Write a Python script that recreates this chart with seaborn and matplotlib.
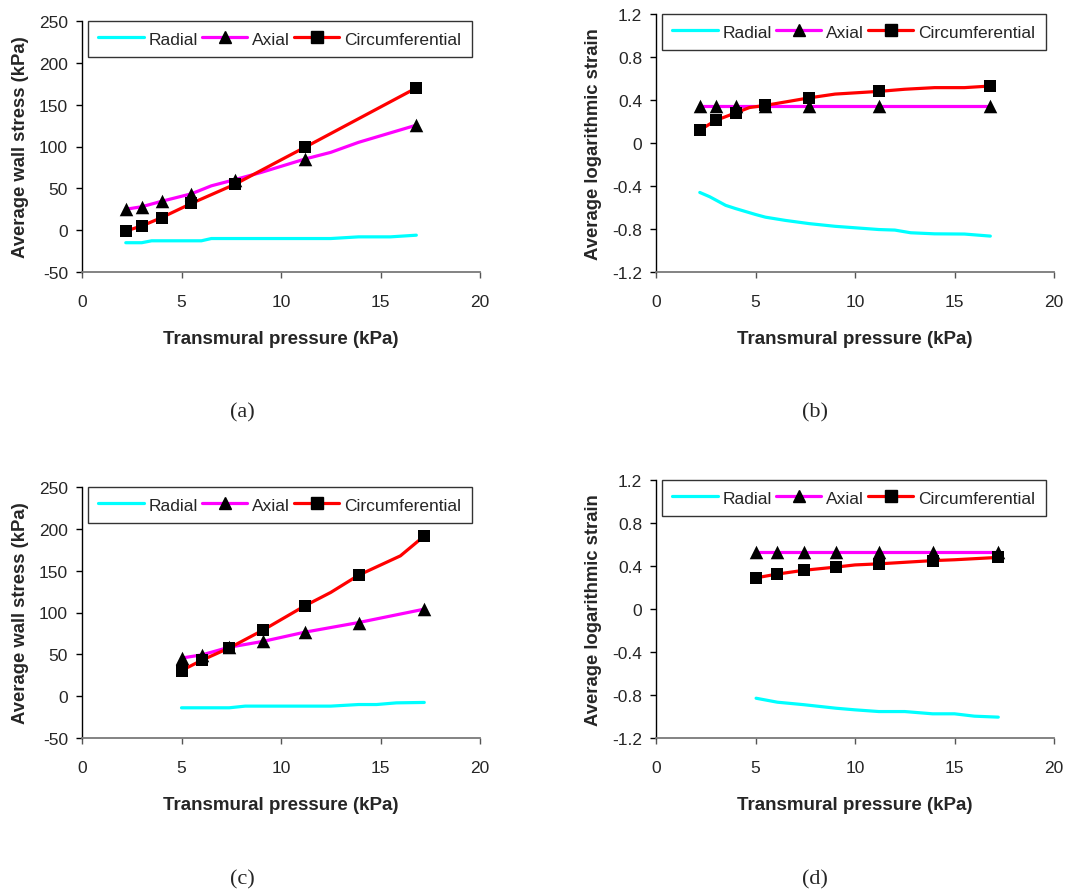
import numpy as np
import pandas as pd
import matplotlib
matplotlib.use("Agg")
import matplotlib.pyplot as plt
from matplotlib.lines import Line2D
from matplotlib.ticker import FixedLocator, FuncFormatter
import seaborn as sns

# ---- data: transmural pressure (kPa) vs. averaged wall quantities ----
# (a) wall stress, case 1
a_rad_x = [2.2, 3.0, 3.5, 6.0, 6.5, 12.5, 13.9, 15.5, 16.8]
a_rad_y = [-15, -15, -12.7, -12.7, -10, -10, -8, -8, -6]
a_axi_x = [2.2, 3.0, 4.0, 5.5, 6.5, 7.7, 9.0, 11.2, 12.5, 13.9, 16.8]
a_axi_y = [25, 28, 34.5, 43.5, 53, 60.5, 69, 85, 93, 105, 125.5]
a_cir_x = [2.2, 3.0, 4.0, 5.5, 7.7, 10.0, 11.2, 16.8]
a_cir_y = [-1, 5, 15, 32, 55, 84, 99, 170]
a_mk_x = [2.2, 3.0, 4.0, 5.5, 7.7, 11.2, 16.8]
a_axi_mk = [25, 28, 34.5, 43.5, 60.5, 85, 125.5]
a_cir_mk = [-1, 5, 15, 32, 55, 99, 170]

# (b) logarithmic strain, case 1
b_rad_x = [2.2, 2.7, 3.0, 3.5, 4.0, 5.0, 5.5, 6.5, 7.7, 9.0, 11.2, 12.0, 12.8, 14.0, 15.5, 16.8]
b_rad_y = [-0.46, -0.50, -0.53, -0.58, -0.61, -0.665, -0.69, -0.72, -0.75, -0.775,
           -0.805, -0.81, -0.835, -0.845, -0.847, -0.866]
b_axi_x = [2.2, 3.0, 4.0, 5.5, 7.7, 11.2, 16.8]
b_axi_y = [0.34, 0.34, 0.34, 0.34, 0.34, 0.34, 0.34]
b_cir_x = [2.2, 3.0, 4.0, 4.7, 5.5, 7.7, 9.0, 11.2, 12.5, 14.0, 15.5, 16.8]
b_cir_y = [0.12, 0.21, 0.28, 0.33, 0.35, 0.42, 0.455, 0.48, 0.50, 0.515, 0.515, 0.53]
b_mk_x = [2.2, 3.0, 4.0, 5.5, 7.7, 11.2, 16.8]
b_axi_mk = [0.34, 0.34, 0.34, 0.34, 0.34, 0.34, 0.34]
b_cir_mk = [0.12, 0.21, 0.28, 0.35, 0.42, 0.48, 0.53]

# (c) wall stress, case 2
c_rad_x = [5.0, 7.4, 8.2, 12.5, 13.9, 14.8, 15.8, 17.2]
c_rad_y = [-13.9, -13.9, -11.9, -11.9, -10, -10, -8, -7.5]
c_axi_x = [5.0, 6.05, 7.4, 9.1, 11.2, 13.9, 17.2]
c_axi_y = [45.5, 49.5, 58.5, 65.5, 76.5, 88, 104]
c_cir_x = [5.0, 6.05, 7.4, 9.1, 11.2, 12.5, 13.9, 16.0, 17.2]
c_cir_y = [30.6, 43.3, 57.6, 79, 108, 124, 144.6, 167.7, 191.5]
c_mk_x = [5.0, 6.05, 7.4, 9.1, 11.2, 13.9, 17.2]
c_axi_mk = [45.5, 49.5, 58.5, 65.5, 76.5, 88, 104]
c_cir_mk = [30.6, 43.3, 57.6, 79, 108, 144.6, 191.5]

# (d) logarithmic strain, case 2
d_rad_x = [5.03, 6.1, 7.42, 9.05, 10.0, 11.2, 12.5, 13.9, 15.0, 16.0, 17.2]
d_rad_y = [-0.83, -0.867, -0.89, -0.923, -0.938, -0.954, -0.954, -0.975, -0.975, -0.997, -1.006]
d_axi_x = [5.03, 6.1, 7.42, 9.05, 11.2, 13.9, 17.2]
d_axi_y = [0.53, 0.53, 0.53, 0.53, 0.53, 0.53, 0.53]
d_cir_x = [5.03, 6.1, 7.42, 9.05, 10.0, 11.2, 13.9, 15.0, 17.2]
d_cir_y = [0.29, 0.325, 0.36, 0.39, 0.41, 0.42, 0.45, 0.458, 0.48]
d_mk_x = [5.03, 6.1, 7.42, 9.05, 11.2, 13.9, 17.2]
d_axi_mk = [0.53, 0.53, 0.53, 0.53, 0.53, 0.53, 0.53]
d_cir_mk = [0.29, 0.325, 0.36, 0.39, 0.42, 0.45, 0.48]

series_names = ["Radial", "Axial", "Circumferential"]
x_ticks = [0, 5, 10, 15, 20]
stress_ticks = [-50, 0, 50, 100, 150, 200, 250]
strain_ticks = [-1.2, -0.8, -0.4, 0, 0.4, 0.8, 1.2]
x_label = "Transmural pressure (kPa)"
stress_label = "Average wall stress (kPa)"
strain_label = "Average logarithmic strain"
captions = ["(a)", "(b)", "(c)", "(d)"]

# ---- styling ----
sns.set_style("ticks")
plt.rcParams["font.family"] = ["Liberation Sans", "DejaVu Sans"]
plt.rcParams["axes.unicode_minus"] = False

COL_RAD = "#00FFFF"
COL_AXI = "#FF00FF"
COL_CIR = "#FF0000"
LW = 2.3

fig = plt.figure(figsize=(10.9, 8.95), dpi=100)

W = 1090.0
H = 895.0
def px_axes(left, top, right, bottom):
    return fig.add_axes([left / W, 1 - bottom / H, (right - left) / W, (bottom - top) / H])

axes = [
    px_axes(82, 22, 480, 273),
    px_axes(656, 15, 1054, 273),
    px_axes(82, 488, 480, 739),
    px_axes(656, 481, 1054, 739),
]

panels = [
    (a_rad_x, a_rad_y, a_axi_x, a_axi_y, a_cir_x, a_cir_y, a_mk_x, a_axi_mk, a_cir_mk, stress_ticks, stress_label),
    (b_rad_x, b_rad_y, b_axi_x, b_axi_y, b_cir_x, b_cir_y, b_mk_x, b_axi_mk, b_cir_mk, strain_ticks, strain_label),
    (c_rad_x, c_rad_y, c_axi_x, c_axi_y, c_cir_x, c_cir_y, c_mk_x, c_axi_mk, c_cir_mk, stress_ticks, stress_label),
    (d_rad_x, d_rad_y, d_axi_x, d_axi_y, d_cir_x, d_cir_y, d_mk_x, d_axi_mk, d_cir_mk, strain_ticks, strain_label),
]

legend_handles = [
    Line2D([], [], color=COL_RAD, lw=LW),
    Line2D([], [], color=COL_AXI, lw=LW, marker="^", markersize=9,
           markerfacecolor="black", markeredgecolor="black"),
    Line2D([], [], color=COL_CIR, lw=LW, marker="s", markersize=8,
           markerfacecolor="black", markeredgecolor="black"),
]

fmt = FuncFormatter(lambda v, p: f"{v:g}")

for ax, pan in zip(axes, panels):
    rx, ry, axx, axy, cx, cy, mx, amk, cmk, yt, ylab = pan
    sns.lineplot(x=rx, y=ry, color=COL_RAD, lw=LW, sort=False, ax=ax, zorder=2)
    sns.lineplot(x=axx, y=axy, color=COL_AXI, lw=LW, sort=False, ax=ax, zorder=2)
    sns.lineplot(x=cx, y=cy, color=COL_CIR, lw=LW, sort=False, ax=ax, zorder=2)
    sns.scatterplot(x=mx, y=amk, marker="^", s=95, color="black", linewidth=0, ax=ax, zorder=3)
    sns.scatterplot(x=mx, y=cmk, marker="s", s=70, color="black", linewidth=0, ax=ax, zorder=4)

    ax.set_xlim(x_ticks[0], x_ticks[-1])
    ax.set_ylim(yt[0], yt[-1])
    ax.xaxis.set_major_locator(FixedLocator(x_ticks))
    ax.yaxis.set_major_locator(FixedLocator(yt))
    ax.xaxis.set_major_formatter(fmt)
    ax.yaxis.set_major_formatter(fmt)

    for s in ("top", "right"):
        ax.spines[s].set_visible(False)
    ax.spines["left"].set_color("black")
    ax.spines["bottom"].set_color("#7a7a7a")
    ax.spines["left"].set_linewidth(1.0)
    ax.spines["bottom"].set_linewidth(1.3)

    ax.tick_params(axis="x", direction="out", length=4, width=1, color="#555555",
                   labelsize=12.5, pad=12)
    ax.tick_params(axis="y", direction="out", length=4, width=1, color="black",
                   labelsize=12.5, pad=6)

    ax.set_xlabel(x_label, fontsize=13.5, fontweight="bold", labelpad=15)
    ax.set_ylabel(ylab, fontsize=13.3, fontweight="bold", labelpad=7)

    # legend spans the top of the panel
    frac_w = (472 - 88) / 398.0
    leg = ax.legend(legend_handles, series_names, ncol=3, mode="expand",
                    loc="upper left",
                    bbox_to_anchor=(6 / 398.0, 0, frac_w, 1.0),
                    fontsize=12.5, handlelength=2.6, handletextpad=0.3,
                    columnspacing=0.2, borderpad=0.6, borderaxespad=0.0,
                    frameon=True, fancybox=False)
    leg.get_frame().set_edgecolor("black")
    leg.get_frame().set_linewidth(1.0)
    leg.set_zorder(10)

caption_pos = [(242, 413), (815, 413), (242, 880), (815, 880)]
for cap, (cx_, cy_) in zip(captions, caption_pos):
    fig.text(cx_ / W, 1 - cy_ / H, cap, ha="center", va="center",
             fontsize=16, family=["Liberation Serif", "DejaVu Serif"])

fig.savefig("out.png", dpi=100)
